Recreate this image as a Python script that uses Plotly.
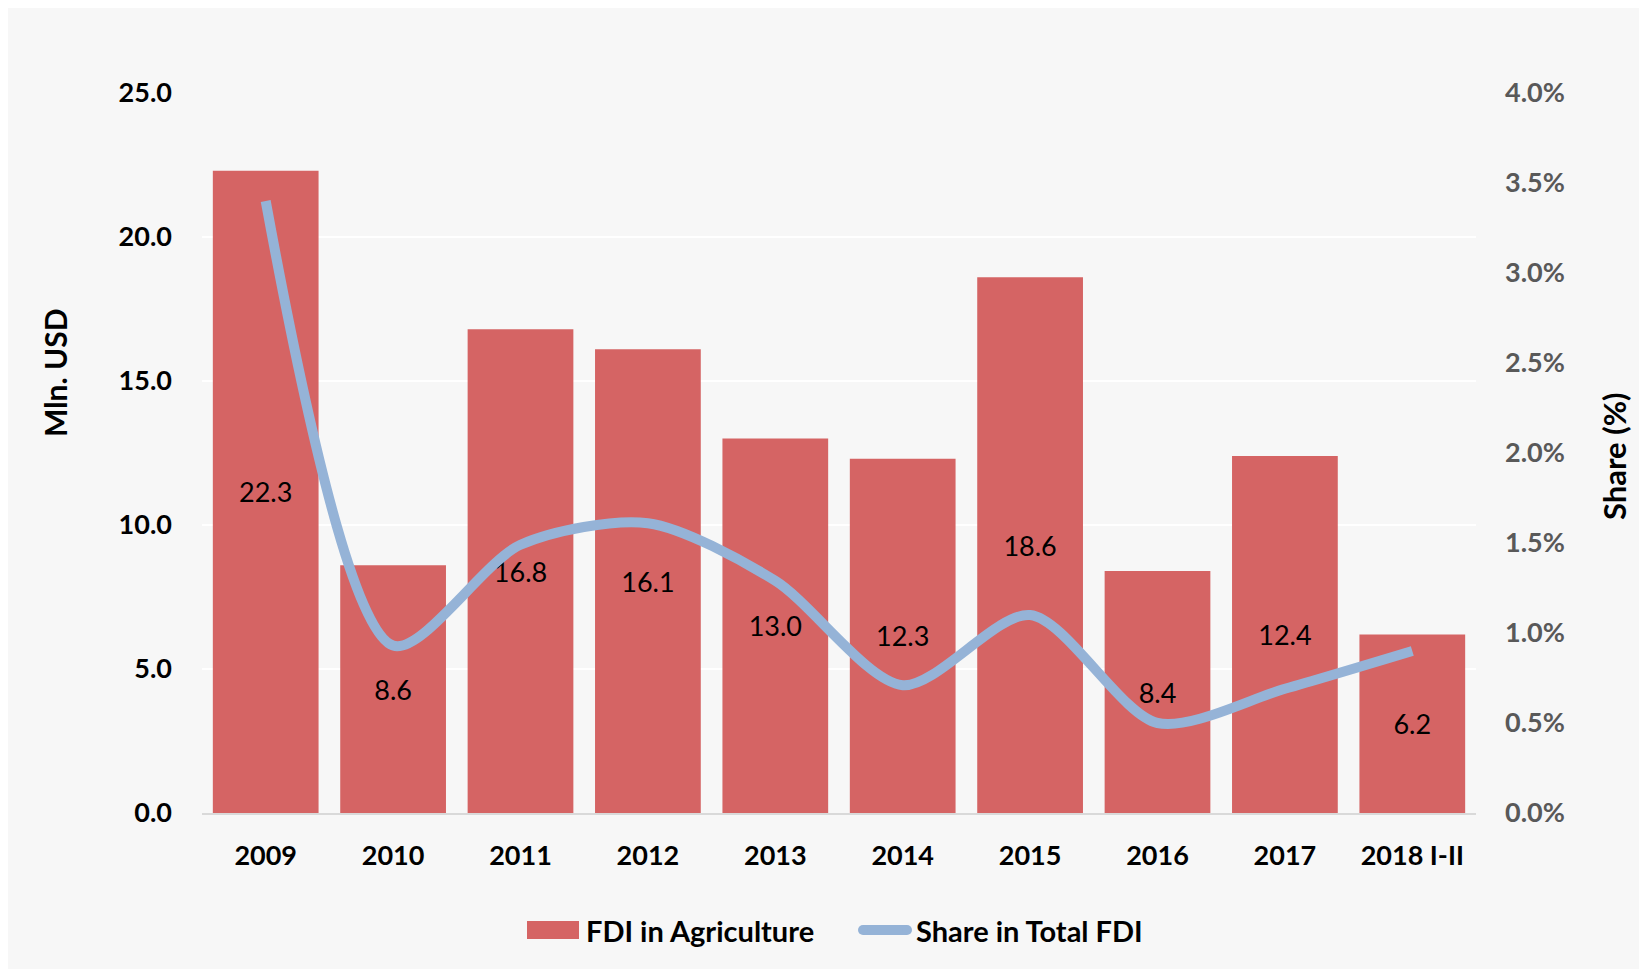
import plotly.graph_objects as go

years = ["2009", "2010", "2011", "2012", "2013", "2014", "2015", "2016", "2017", "2018 I-II"]
fdi_agri = [22.3, 8.6, 16.8, 16.1, 13.0, 12.3, 18.6, 8.4, 12.4, 6.2]
share_pct = [3.4, 0.93, 1.49, 1.61, 1.29, 0.71, 1.10, 0.50, 0.69, 0.90]
left_ticks = [0, 5, 10, 15, 20, 25]
right_ticks = [0, 0.5, 1.0, 1.5, 2.0, 2.5, 3.0, 3.5, 4.0]

BAR_COLOR = "#d56464"
LINE_COLOR = "#95b3d7"

W, H = 1647, 969
OFF = 8  # page body margin
L, R, T = 194, 179, 85
B = H - (813 - OFF)
pw, ph = W - L - R, H - T - B

FONT = "Lato"
FS = 27


def px_x(p):
    """screenshot x pixel -> paper coordinate"""
    return (p - OFF - L) / pw


def px_y(p):
    """screenshot y pixel -> paper coordinate"""
    return (H - B - (p - OFF)) / ph


fig = go.Figure()
fig.add_trace(go.Bar(
    x=years, y=fdi_agri, name="FDI in Agriculture",
    marker=dict(color=BAR_COLOR, line=dict(width=0)),
    text=[f"{v:.1f}" for v in fdi_agri], textposition="inside",
    insidetextanchor="middle", textangle=0, constraintext="none",
    insidetextfont=dict(family=FONT, size=FS, color="#000000"),
    yaxis="y", showlegend=False,
))
fig.add_trace(go.Scatter(
    x=years, y=share_pct, name="Share in Total FDI", mode="lines",
    line=dict(color=LINE_COLOR, width=10, shape="spline", smoothing=0.8),
    yaxis="y2", showlegend=False,
))

# axis titles
fig.add_annotation(text="<b>Mln. USD</b>", xref="paper", yref="paper",
                   x=px_x(55), y=px_y(373), xanchor="center", yanchor="middle",
                   textangle=-90, showarrow=False,
                   font=dict(family=FONT, size=30, color="#000000"))
fig.add_annotation(text="<b>Share (%)</b>", xref="paper", yref="paper",
                   x=px_x(1614), y=px_y(456), xanchor="center", yanchor="middle",
                   textangle=-90, showarrow=False,
                   font=dict(family=FONT, size=31, color="#000000"))

# legend (drawn as swatches + labels)
leg_y = 930
fig.add_shape(type="rect", xref="paper", yref="paper",
              x0=px_x(527), x1=px_x(579), y0=px_y(leg_y + 9), y1=px_y(leg_y - 9),
              fillcolor=BAR_COLOR, line=dict(width=0))
fig.add_annotation(text="<b>FDI in Agriculture</b>", xref="paper", yref="paper",
                   x=px_x(584), y=px_y(leg_y), xanchor="left", yanchor="middle",
                   showarrow=False, font=dict(family=FONT, size=29, color="#000000"))
fig.add_shape(type="line", xref="paper", yref="paper",
              x0=px_x(863), x1=px_x(907), y0=px_y(leg_y), y1=px_y(leg_y),
              line=dict(color=LINE_COLOR, width=10))
fig.add_shape(type="circle", xref="paper", yref="paper",
              x0=px_x(858), x1=px_x(868), y0=px_y(leg_y + 5), y1=px_y(leg_y - 5),
              fillcolor=LINE_COLOR, line=dict(width=0))
fig.add_shape(type="circle", xref="paper", yref="paper",
              x0=px_x(902), x1=px_x(912), y0=px_y(leg_y + 5), y1=px_y(leg_y - 5),
              fillcolor=LINE_COLOR, line=dict(width=0))
fig.add_annotation(text="<b>Share in Total FDI</b>", xref="paper", yref="paper",
                   x=px_x(914), y=px_y(leg_y), xanchor="left", yanchor="middle",
                   showarrow=False, font=dict(family=FONT, size=29, color="#000000"))

fig.update_layout(
    width=W, height=H,
    margin=dict(l=L, r=R, t=T, b=B, autoexpand=False),
    paper_bgcolor="#f7f7f7", plot_bgcolor="#f7f7f7",
    bargap=0.17,
    font=dict(family=FONT, size=FS, color="#000000"),
    showlegend=False,
    xaxis=dict(type="category", showgrid=False, showline=True,
               linecolor="#d9d9d9", linewidth=2, ticks="outside", ticklen=0,
               ticklabelstandoff=18,
               tickfont=dict(family=FONT, size=FS, color="#000000", weight="bold")),
    yaxis=dict(range=[0, 25], tickvals=left_ticks,
               ticktext=[f"{v:.1f}" for v in left_ticks],
               showgrid=True, gridcolor="#ffffff", gridwidth=2,
               zeroline=False, showline=False, ticks="", ticklabelstandoff=29,
               tickfont=dict(family=FONT, size=FS, color="#000000", weight="bold")),
    yaxis2=dict(range=[0, 4], overlaying="y", side="right",
                tickvals=right_ticks, ticktext=[f"{v:.1f}%" for v in right_ticks],
                showgrid=False, zeroline=False, showline=False, ticks="",
                ticklabelstandoff=28,
                tickfont=dict(family=FONT, size=FS, color="#595959", weight="bold")),
)

fig.write_html("out.html")
